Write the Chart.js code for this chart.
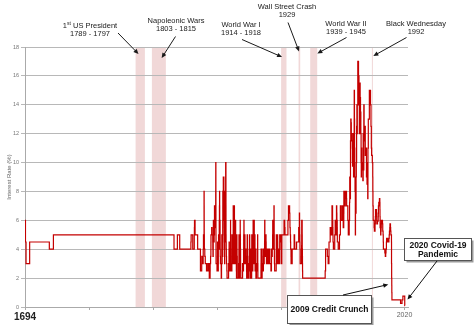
<!DOCTYPE html>
<html>
<head>
<meta charset="utf-8">
<script src="https://cdn.jsdelivr.net/npm/chart.js@4"></script>
<style>
  html, body { margin: 0; padding: 0; background: #fff; }
  #wrap { width: 474px; height: 325px; position: relative; }
</style>
</head>
<body>
<div id="wrap"><canvas id="rateChart"></canvas></div>
<script>
// Bank rate, 1694 - 2020: year the rate changed and the new rate (%)
const changeYears = [
  1694, 1694.4, 1694.9, 1698, 1714.9, 1718.4, 1822, 1824.9, 1826.9, 1836.5,
  1836.7, 1838.1, 1839.4, 1839.5, 1839.6, 1840.1, 1842.3, 1844.7, 1845.8, 1845.85,
  1846.65, 1847.05, 1847.1, 1847.3, 1847.8, 1847.9, 1847.92, 1847.97, 1848.07, 1848.45,
  1848.85, 1849.9, 1850.98, 1852.0, 1852.3, 1853.0, 1853.05, 1853.42, 1853.67, 1853.71,
  1853.75, 1854.36, 1854.6, 1855.27, 1855.34, 1855.45, 1855.68, 1855.7, 1855.74, 1855.76,
  1855.8, 1856.4, 1856.41, 1856.49, 1856.75, 1856.77, 1856.87, 1856.93, 1857.46, 1857.77,
  1857.78, 1857.8, 1857.85, 1857.86, 1857.98, 1858.02, 1858.04, 1858.08, 1858.1, 1858.12,
  1858.94, 1859.32, 1859.35, 1859.42, 1859.44, 1859.53, 1860.05, 1860.08, 1860.24, 1860.28,
  1860.36, 1860.4, 1860.85, 1860.86, 1860.87, 1861.02, 1861.12, 1861.22, 1861.26, 1861.28,
  1861.37, 1861.58, 1861.62, 1861.66, 1861.72, 1861.85, 1862.52, 1862.56, 1862.83, 1863.04,
  1863.08, 1863.14, 1863.31, 1863.33, 1863.37, 1863.39, 1863.84, 1863.85, 1863.92, 1863.93,
  1863.98, 1864.05, 1864.12, 1864.16, 1864.29, 1864.33, 1864.34, 1864.38, 1864.4, 1864.46,
  1864.56, 1864.59, 1864.69, 1864.86, 1864.9, 1864.95, 1865.03, 1865.07, 1865.17, 1865.24,
  1865.34, 1865.4, 1865.42, 1865.45, 1865.57, 1865.59, 1865.74, 1865.75, 1865.76, 1865.93,
  1865.99, 1866.01, 1866.14, 1866.2, 1866.34, 1866.35, 1866.36, 1866.37, 1866.62, 1866.64,
  1866.66, 1866.68, 1866.74, 1866.85, 1866.97, 1867.1, 1867.41, 1867.56, 1868.88, 1868.92,
  1869.25, 1869.34, 1869.48, 1869.53, 1869.57, 1869.84, 1870.51, 1870.55, 1870.56, 1870.59,
  1870.63, 1870.65, 1870.67, 1870.75, 1871.17, 1871.53, 1871.72, 1871.74, 1871.77, 1871.87,
  1871.91, 1871.95, 1872.52, 1872.55, 1872.58, 1872.75, 1872.76, 1872.77, 1872.85, 1872.86,
  1872.89, 1872.91, 1872.95, 1873.02, 1873.08, 1873.23, 1873.35, 1873.36, 1873.37, 1873.42,
  1873.45, 1873.52, 1873.54, 1873.56, 1873.74, 1873.83, 1873.84, 1873.85, 1873.91, 1873.93,
  1873.95, 1874.1, 1874.35, 1874.45, 1874.7, 1874.85, 1874.95, 1875.05, 1875.15, 1875.4,
  1875.55, 1875.65, 1875.8, 1875.85, 1876.0, 1876.05, 1876.15, 1876.35, 1877.5, 1877.75,
  1877.8, 1877.95, 1878.1, 1878.3, 1878.45, 1878.8, 1878.85, 1878.9, 1879.05, 1879.2,
  1879.3, 1879.4, 1880.9, 1881.3, 1881.7, 1881.75, 1881.85, 1882.05, 1882.15, 1882.25,
  1882.3, 1882.6, 1882.75, 1882.95, 1883.1, 1883.2, 1883.45, 1883.7, 1883.75, 1884.05,
  1884.2, 1884.3, 1884.4, 1884.75, 1884.8, 1884.85, 1885.05, 1885.15, 1885.25, 1885.4,
  1886.05, 1886.15, 1886.5, 1886.6, 1886.7, 1886.8, 1887.05, 1887.15, 1887.25, 1887.35,
  1887.6, 1887.65, 1887.9, 1888.05, 1888.3, 1888.7, 1888.75, 1888.8, 1889.05, 1889.1,
  1889.2, 1889.7, 1889.75, 1889.85, 1889.95, 1890.05, 1890.1, 1890.2, 1890.5, 1890.6,
  1890.65, 1890.85, 1890.95, 1891.05, 1891.1, 1891.35, 1891.45, 1891.55, 1891.65, 1891.8,
  1891.95, 1892.05, 1892.15, 1892.35, 1892.85, 1893.05, 1893.4, 1893.45, 1893.5, 1893.6,
  1893.65, 1893.75, 1893.8, 1893.9, 1893.95, 1894.05, 1896.7, 1896.75, 1896.8, 1897.05,
  1897.15, 1897.3, 1897.5, 1897.7, 1897.8, 1898.3, 1898.4, 1898.45, 1898.8, 1898.85,
  1899.05, 1899.15, 1899.5, 1899.8, 1899.85, 1899.9, 1900.05, 1900.1, 1900.2, 1900.4,
  1900.5, 1900.6, 1900.65, 1900.95, 1901.05, 1901.15, 1901.3, 1901.4, 1901.8, 1902.1,
  1902.15, 1902.8, 1903.3, 1903.35, 1903.75, 1904.3, 1904.35, 1905.25, 1905.7, 1905.75,
  1906.3, 1906.4, 1906.7, 1906.8, 1907.05, 1907.3, 1907.4, 1907.8, 1907.82, 1907.85,
  1908.0, 1908.05, 1908.1, 1908.2, 1908.25, 1908.45, 1909.78, 1909.8, 1909.85, 1909.95,
  1910.05, 1910.2, 1910.25, 1910.5, 1910.55, 1910.75, 1910.9, 1911.05, 1911.1, 1911.25,
  1911.75, 1912.1, 1912.25, 1912.65, 1912.8, 1913.3, 1913.8, 1914.05, 1914.1, 1914.58,
  1914.6, 1916.55, 1917.05, 1917.3, 1919.85, 1920.3, 1921.3, 1921.5, 1921.6, 1921.85,
  1922.1, 1922.2, 1922.5, 1922.55, 1923.5, 1925.2, 1925.6, 1925.8, 1927.3, 1929.1,
  1929.7, 1929.85, 1929.9, 1929.95, 1930.1, 1930.2, 1930.4, 1931.55, 1931.6, 1931.7,
  1932.1, 1932.15, 1932.3, 1932.35, 1932.4, 1932.5, 1951.85, 1952.2, 1953.7, 1954.4,
  1955.1, 1955.15, 1956.15, 1957.1, 1957.7, 1958.2, 1958.4, 1958.5, 1958.6, 1958.9,
  1960.05, 1960.45, 1960.8, 1960.9, 1961.55, 1961.8, 1961.9, 1962.2, 1962.25, 1962.3,
  1963.05, 1964.15, 1964.9, 1965.45, 1966.55, 1967.1, 1967.3, 1967.35, 1967.8, 1967.85,
  1967.9, 1968.2, 1968.7, 1969.15, 1970.2, 1970.3, 1971.3, 1971.7, 1972.5, 1972.8,
  1972.95, 1973.05, 1973.3, 1973.5, 1973.55, 1973.6, 1973.85, 1974.1, 1974.3, 1974.7,
  1975.1, 1975.2, 1975.35, 1975.55, 1975.8, 1976.2, 1976.4, 1976.55, 1976.75, 1976.8,
  1977.0, 1977.1, 1977.3, 1977.5, 1977.75, 1977.9, 1978.2, 1978.4, 1978.6, 1978.85,
  1979.1, 1979.3, 1979.45, 1979.87, 1980.5, 1980.9, 1981.2, 1981.8, 1981.9, 1982.2,
  1982.5, 1982.7, 1982.85, 1983.0, 1983.3, 1983.5, 1984.2, 1984.5, 1984.7, 1984.9,
  1985.05, 1985.3, 1985.6, 1986.0, 1986.3, 1986.8, 1987.3, 1987.5, 1987.8, 1988.4,
  1988.6, 1988.9, 1989.8, 1990.8, 1991.2, 1991.5, 1991.75, 1992.35, 1992.72, 1992.8,
  1992.9, 1993.1, 1993.85, 1994.1, 1994.7, 1994.95, 1995.1, 1995.95, 1996.1, 1996.2,
  1996.8, 1997.4, 1997.5, 1997.6, 1997.9, 1998.45, 1998.8, 1998.9, 1998.95, 1999.05,
  1999.45, 1999.5, 1999.7, 1999.9, 2000.05, 2000.12, 2001.1, 2001.3, 2001.6, 2001.75,
  2001.85, 2003.1, 2003.5, 2003.85, 2004.1, 2004.45, 2004.6, 2005.6, 2006.6, 2006.85,
  2007.05, 2007.35, 2007.5, 2007.95, 2008.1, 2008.3, 2008.8, 2008.85, 2008.95, 2009.05,
  2009.1, 2009.2, 2016.6, 2017.85, 2018.6, 2020.2, 2020.22, 2020.5
];
const bankRate = [
  6, 4.5, 3, 4.5, 4, 5, 4, 5, 4, 4.5,
  5, 4, 5, 5.5, 6, 5, 4, 2.5, 3, 3.5,
  3, 3.5, 4, 5, 8, 7, 6, 5, 4, 3.5,
  3, 2.5, 3, 2.5, 2, 2.5, 3, 3.5, 4, 4.5,
  5, 5.5, 5, 4.5, 4, 3.5, 4, 4.5, 5, 5.5,
  6, 5, 4.5, 5, 6, 7, 6.5, 6, 5.5, 6,
  7, 8, 9, 10, 8, 6, 5, 4, 3.5, 3,
  2.5, 3.5, 4.5, 3.5, 3, 2.5, 3, 4, 4.5, 5,
  4.5, 4, 4.5, 5, 6, 7, 8, 7, 6, 5,
  6, 5, 4.5, 4, 3.5, 3, 2.5, 2, 3, 4,
  5, 4, 3.5, 3, 4, 3.5, 4, 6, 7, 8,
  7, 6, 7, 6, 7, 8, 9, 8, 7, 6,
  7, 8, 9, 8, 7, 6, 5.5, 5, 4.5, 4,
  4.5, 4, 3.5, 3, 4, 4.5, 5, 6, 7, 8,
  7, 8, 7, 6, 7, 8, 9, 10, 8, 7,
  6, 5, 4.5, 4, 3.5, 3, 2.5, 2, 2.5, 3,
  4, 4.5, 4, 3.5, 3, 2.5, 3.5, 4, 6, 5,
  4, 3.5, 3, 2.5, 3, 2.5, 3, 4, 5, 4,
  3.5, 3, 3.5, 4, 3.5, 4, 4.5, 5, 6, 7,
  6, 5, 6, 5, 4, 4.5, 5, 6, 7, 6,
  5, 4, 3.5, 3, 4, 5, 6, 7, 6, 5,
  4.5, 3.5, 4, 3, 4, 6, 5, 4, 3.5, 3,
  2.5, 2, 3, 4, 5, 4, 3.5, 2, 3, 4,
  5, 3, 2, 3, 2.5, 5, 6, 5, 4, 3,
  2.5, 2, 3, 2.5, 3, 4, 5, 6, 5, 4,
  3, 4, 5, 4, 3.5, 3, 4, 3.5, 3, 3.5,
  3, 2.5, 2, 3, 4, 5, 4, 3.5, 3, 2,
  3, 2.5, 3, 3.5, 4, 5, 4, 3.5, 3, 2,
  3, 4, 3, 2.5, 2, 3, 4, 5, 4, 3,
  2.5, 3, 4, 5, 6, 5, 4, 3, 4, 5,
  4, 6, 5, 4, 3, 4, 5, 3, 2.5, 3,
  4, 3, 2.5, 2, 3, 2.5, 3, 4, 3, 2.5,
  3, 4, 5, 4, 3, 2, 2.5, 3, 4, 3.5,
  3, 2.5, 2, 2.5, 3, 4, 3, 2.5, 3, 4,
  3.5, 3, 3.5, 4.5, 5, 6, 5, 4.5, 4, 3.5,
  4, 3.5, 4, 5, 4.5, 4, 3.5, 3, 4, 3.5,
  3, 4, 3.5, 3, 4, 3.5, 3, 2.5, 3, 4,
  3.5, 4, 5, 6, 5, 4.5, 4, 4.5, 5.5, 7,
  6, 5, 4, 3.5, 3, 2.5, 3, 4, 5, 4.5,
  3.5, 3, 4, 3.5, 3, 4, 5, 4.5, 3.5, 3,
  4, 3.5, 3, 4, 5, 4.5, 5, 4, 3, 4,
  5, 6, 5.5, 5, 6, 7, 6.5, 6, 5.5, 5,
  4.5, 4, 3.5, 3, 4, 5, 4.5, 4, 4.5, 5.5,
  6.5, 6, 5.5, 5, 4.5, 4, 3, 3.5, 4.25, 6,
  5, 4, 3.5, 3, 2.5, 2, 2.5, 4, 3.5, 3,
  3.5, 4.5, 5.5, 5, 7, 6, 5.5, 5, 4.5, 4,
  5, 6, 5.5, 5, 7, 6.5, 6, 5.5, 5, 4.5,
  4, 5, 7, 6, 7, 6.5, 6, 5.5, 6, 6.5,
  8, 7.5, 7, 8, 7.5, 7, 6, 5, 6, 7.25,
  9, 8.75, 8, 7.5, 9, 11.5, 13, 12.75, 12, 11.5,
  11, 10, 9.75, 10, 12, 9, 10.5, 11.5, 13, 15,
  13, 11, 9, 8, 5, 7, 6.5, 9, 10, 12.5,
  14, 12, 14, 17, 16, 14, 12, 15.5, 14.5, 13.5,
  12, 10, 9, 11, 10, 9.5, 8.75, 12, 10, 9.5,
  14, 12.5, 11.5, 12.5, 10.5, 11, 9, 10, 8.5, 7.5,
  11, 13, 15, 14, 12.5, 11, 10.5, 10, 9, 8,
  7, 6, 5.5, 5.25, 5.75, 6.25, 6.75, 6.5, 6, 5.75,
  5.94, 6.25, 6.5, 7, 7.25, 7.5, 7.25, 6.75, 6.25, 5.5,
  5.25, 5, 5.25, 5.5, 5.75, 6, 5.75, 5.25, 5, 4.5,
  4, 3.75, 3.5, 3.75, 4, 4.5, 4.75, 4.5, 4.75, 5,
  5.25, 5.5, 5.75, 5.5, 5.25, 5, 4.5, 3, 2, 1.5,
  1, 0.5, 0.25, 0.5, 0.75, 0.25, 0.1, 0.1
];

// marked periods
const eventNames = ["US President", "Napoleonic Wars", "World War I", "Wall Street Crash", "World War II", "Black Wednesday"];
const eventDates = ["1789 - 1797", "1803 - 1815", "1914 - 1918", "1929", "1939 - 1945", "1992"];
const bandStart = [1789, 1803, 1914, 1929, 1939, 1992];
const bandEnd = [1797, 1815, 1918.6, 1930.4, 1945, 1992.7];
const calloutLines = [["2009 Credit Crunch"], ["2020 Covid-19", "Pandemic"]];

const xTickYears = [1694, 1749, 1804, 1859, 1914, 1969, 2020];
const xLabelYears = [1694, 2020];

// where the event labels sit (pixels) and the year their arrows point at
const labelLayout = [
  { x: 90, y: 26, ax: 118, ay: 33, toYear: 1791.5, toY: 54 },
  { x: 176, y: 21, ax: 175.5, ay: 36.5, toYear: 1811.4, toY: 58 },
  { x: 241, y: 25, ax: 242, ay: 39.5, toYear: 1914.8, toY: 57 },
  { x: 287, y: 7, ax: 288, ay: 22.5, toYear: 1929.4, toY: 51.5 },
  { x: 346, y: 23.5, ax: 346.5, ay: 37.5, toYear: 1945.1, toY: 53.5 },
  { x: 416, y: 23.5, ax: 406.5, ay: 37.5, toYear: 1993.2, toY: 56 }
];
const calloutLayout = [
  { box: [287.5, 295.5, 84, 28], ty: 310, ax: 343, ay: 295, toYear: 2006.1, toY: 284.5 },
  { box: [404.5, 238.5, 67, 22], ty: 245.5, ax: 437, ay: 261, toYear: 2022.6, toY: 299.5 }
];

const points = changeYears.map((yr, i) => ({ x: yr, y: bankRate[i] }));

function drawArrow(ctx, x0, y0, x1, y1) {
  const ang = Math.atan2(y1 - y0, x1 - x0), h = 5.5;
  ctx.beginPath();
  ctx.moveTo(x0, y0);
  ctx.lineTo(x1 - Math.cos(ang) * h * 0.7, y1 - Math.sin(ang) * h * 0.7);
  ctx.stroke();
  ctx.beginPath();
  ctx.moveTo(x1, y1);
  ctx.lineTo(x1 - h * Math.cos(ang - 0.42), y1 - h * Math.sin(ang - 0.42));
  ctx.lineTo(x1 - h * Math.cos(ang + 0.42), y1 - h * Math.sin(ang + 0.42));
  ctx.closePath();
  ctx.fill();
}

const eventNotes = {
  id: 'eventNotes',
  beforeDraw(chart) {
    const { ctx, chartArea: a, scales: { x } } = chart;
    ctx.save();
    ctx.fillStyle = 'rgba(228,178,178,0.5)';
    bandStart.forEach((s, i) => {
      const x0 = x.getPixelForValue(s), x1 = x.getPixelForValue(bandEnd[i]);
      ctx.fillRect(x0, a.top, Math.max(1, x1 - x0), a.bottom - a.top);
    });
    ctx.restore();
  },
  afterDraw(chart) {
    const { ctx, scales: { x } } = chart;
    ctx.save();
    ctx.fillStyle = '#1a1a1a';
    ctx.strokeStyle = '#1a1a1a';
    ctx.lineWidth = 1;
    ctx.textBaseline = 'middle';
    const f = '7.5px "Liberation Sans", Arial, sans-serif';
    labelLayout.forEach((p, i) => {
      ctx.font = f;
      if (i === 0) {
        // "1st" with a raised "st"
        const rest = ' ' + eventNames[0];
        const w1 = ctx.measureText('1').width, w3 = ctx.measureText(rest).width;
        ctx.font = '5px "Liberation Sans", Arial, sans-serif';
        const w2 = ctx.measureText('st').width;
        let sx = p.x - (w1 + w2 + w3) / 2;
        ctx.textAlign = 'left';
        ctx.font = f;
        ctx.fillText('1', sx, p.y);
        ctx.font = '5px "Liberation Sans", Arial, sans-serif';
        ctx.fillText('st', sx + w1, p.y - 2);
        ctx.font = f;
        ctx.fillText(rest, sx + w1 + w2, p.y);
      } else {
        ctx.textAlign = 'center';
        ctx.fillText(eventNames[i], p.x, p.y);
      }
      ctx.textAlign = 'center';
      ctx.fillText(eventDates[i], p.x, p.y + 8);
      drawArrow(ctx, p.ax, p.ay, x.getPixelForValue(p.toYear), p.toY);
    });

    calloutLayout.forEach((c, i) => {
      const [bx, by, bw, bh] = c.box;
      ctx.fillStyle = '#9a9a9a';
      ctx.fillRect(bx + 2, by + 2, bw, bh);
      ctx.fillStyle = '#fff';
      ctx.fillRect(bx, by, bw, bh);
      ctx.strokeStyle = '#555';
      ctx.strokeRect(bx, by, bw, bh);
      ctx.fillStyle = '#111';
      ctx.strokeStyle = '#111';
      ctx.font = 'bold 8.5px "Liberation Sans", Arial, sans-serif';
      ctx.textAlign = 'center';
      calloutLines[i].forEach((t, k) => ctx.fillText(t, bx + bw / 2, c.ty + k * 9));
      drawArrow(ctx, c.ax, c.ay, x.getPixelForValue(c.toYear), c.toY);
    });
    ctx.restore();
  }
};

new Chart(document.getElementById('rateChart').getContext('2d'), {
  type: 'line',
  data: {
    datasets: [{
      label: 'Bank Rate',
      data: points,
      stepped: true,
      borderColor: '#c40000',
      borderWidth: 1.2,
      pointRadius: 0,
      fill: false
    }]
  },
  options: {
    responsive: true,
    maintainAspectRatio: false,
    animation: false,
    layout: { padding: { left: 0, right: 66, top: 47, bottom: 0 } },
    plugins: {
      legend: { display: false },
      tooltip: { enabled: false }
    },
    scales: {
      x: {
        type: 'linear',
        min: 1694,
        max: 2023,
        afterBuildTicks: (s) => { s.ticks = xTickYears.map(v => ({ value: v })); },
        afterFit: (s) => { s.height = 18; },
        grid: { drawOnChartArea: false, tickLength: 3, color: '#aaa' },
        border: { color: '#aaa' },
        ticks: {
          autoSkip: false,
          maxRotation: 0,
          padding: 1,
          callback: (v) => xLabelYears.includes(v) ? String(v) : '',
          color: (c) => c.tick && c.tick.value === 1694 ? '#222' : '#666',
          font: (c) => c.tick && c.tick.value === 1694
            ? { family: '"Liberation Sans", Arial, sans-serif', size: 10, weight: 'bold' }
            : { family: '"Liberation Sans", Arial, sans-serif', size: 7 }
        }
      },
      y: {
        min: 0,
        max: 18,
        afterFit: (s) => { s.width = 25; },
        grid: { color: '#b8b8b8', tickLength: 4 },
        border: { color: '#aaa' },
        ticks: {
          stepSize: 2,
          padding: 2,
          color: '#777',
          font: { family: '"Liberation Sans", Arial, sans-serif', size: 5.5 }
        },
        title: {
          display: true,
          text: 'Interest Rate (%)',
          color: '#666',
          padding: { top: 6, bottom: 0 },
          font: { family: '"Liberation Sans", Arial, sans-serif', size: 6 }
        }
      }
    }
  },
  plugins: [eventNotes]
});
</script>
</body>
</html>
